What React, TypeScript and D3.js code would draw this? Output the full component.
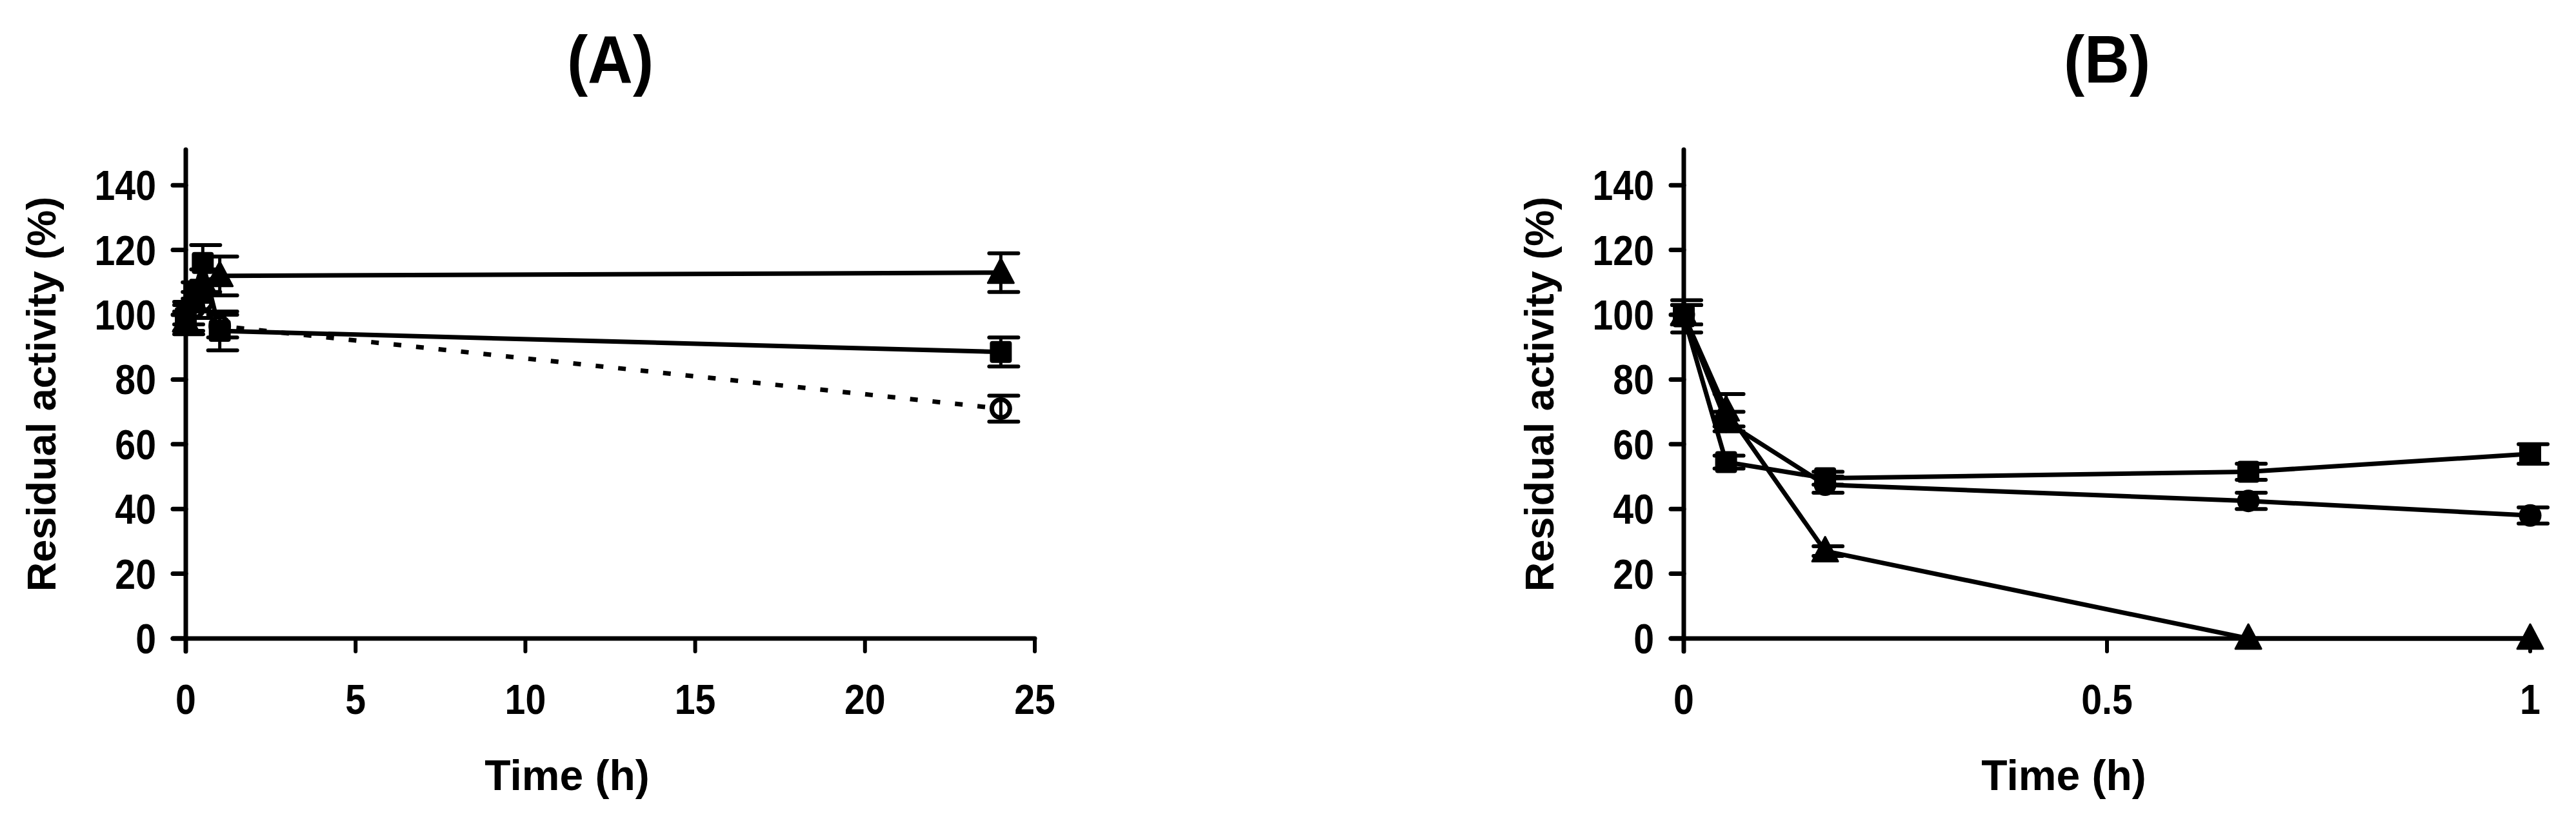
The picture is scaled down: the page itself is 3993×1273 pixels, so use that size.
import React from "react";
import * as d3 from "d3";

// ---------- data ----------
const Y_TICKS = [0, 20, 40, 60, 80, 100, 120, 140];
const A_X_TICKS = [0, 5, 10, 15, 20, 25];
const B_X_TICKS = [0, 0.5, 1];
const B_X_TICK_LABELS = ["0", "0.5", "1"];

const A_TIME = [0, 0.25, 0.5, 1, 24];
const A_TRI = [98, 104, 110, 112, 113];
const A_TRI_ERR = [3, 3, 4, 6, 6];
const A_SQ = [99, 107, 116, 95, 88.5];
const A_SQ_ERR = [5, 3, 5.5, 6, 4.5];
const A_CIR = [100, 102, 104, 96.5, 71];
const A_CIR_ERR = [3, 3, 3, 3.5, 4];

const B_TIME = [0, 0.05, 0.167, 0.667, 1];
const B_SQ = [99.5, 54.5, 49.5, 51.5, 57];
const B_SQ_ERR = [5, 2, 2, 2.5, 3];
const B_CIR = [100, 67, 47.5, 42.5, 38];
const B_CIR_ERR = [3, 3, 2.5, 2.5, 2.5];
const B_TRI = [100, 70.5, 27, 0, 0];
const B_TRI_ERR = [3, 5, 1.5, 0, 0];

const FONT = "'Liberation Sans', Arial, Helvetica, sans-serif";

type Series = {
  t: number[];
  v: number[];
  e: number[];
  shape: "square" | "circle" | "triangle";
  open?: boolean;
  dashed?: boolean;
};

function Marker({ shape, x, y, open }: { shape: string; x: number; y: number; open?: boolean }) {
  if (shape === "square") {
    return <rect x={x - 17} y={y - 17} width={34} height={34} rx={4} fill="#000" />;
  }
  if (shape === "circle") {
    return open ? (
      <circle cx={x} cy={y} r={14} fill="#fff" stroke="#000" strokeWidth={7} />
    ) : (
      <circle cx={x} cy={y} r={17.5} fill="#000" />
    );
  }
  const p = d3.path();
  p.moveTo(x, y - 22);
  p.lineTo(x + 20, y + 16);
  p.lineTo(x - 20, y + 16);
  p.closePath();
  return <path d={p.toString()} fill="#000" stroke="#000" strokeWidth={3} strokeLinejoin="round" />;
}

function Panel({
  title,
  xDomain,
  xRange,
  xTicks,
  xTickLabels,
  series,
}: {
  title: string;
  xDomain: [number, number];
  xRange: [number, number];
  xTicks: number[];
  xTickLabels: string[];
  series: Series[];
}) {
  const x = d3.scaleLinear().domain(xDomain).range(xRange);
  const y = d3.scaleLinear().domain([0, 151]).range([990, 232]);
  const x0 = x(xDomain[0]);
  const x1 = x(xDomain[1]);
  const y0 = y(0);
  const yTop = y(151);
  const mid = (x0 + x1) / 2;
  const line = d3
    .line<number>()
    .x((_, i) => 0)
    .y(() => 0);

  return (
    <g>
      {/* title */}
      <g transform={`translate(${mid},128) scale(0.93,1)`}>
        <text textAnchor="middle" fontSize={104} fontWeight="bold" fontFamily={FONT}>
          {title}
        </text>
      </g>

      {/* y axis */}
      <line x1={x0} x2={x0} y1={y0 + 20} y2={yTop} stroke="#000" strokeWidth={7} strokeLinecap="round" />
      {Y_TICKS.map((t) => (
        <g key={"yt" + t}>
          <line x1={x0 - 20} x2={x0} y1={y(t)} y2={y(t)} stroke="#000" strokeWidth={7} strokeLinecap="round" />
          <g transform={`translate(${x0 - 46},${y(t) + 23}) scale(0.88,1)`}>
            <text textAnchor="end" fontSize={65} fontWeight="bold" fontFamily={FONT}>
              {t}
            </text>
          </g>
        </g>
      ))}

      {/* x axis */}
      <line x1={x0 - 20} x2={x1} y1={y0} y2={y0} stroke="#000" strokeWidth={7} strokeLinecap="round" />
      {xTicks.map((t, i) => (
        <g key={"xt" + t}>
          <line x1={x(t)} x2={x(t)} y1={y0} y2={y0 + 20} stroke="#000" strokeWidth={6} strokeLinecap="round" />
          <g transform={`translate(${x(t)},1107) scale(0.88,1)`}>
            <text textAnchor="middle" fontSize={65} fontWeight="bold" fontFamily={FONT}>
              {xTickLabels[i]}
            </text>
          </g>
        </g>
      ))}

      {/* axis titles */}
      <text x={mid - 67} y={1225} textAnchor="middle" fontSize={66} fontWeight="bold" fontFamily={FONT}>
        Time (h)
      </text>
      <text
        transform={`translate(${x0 - 202},${(y0 + yTop) / 2}) rotate(-90)`}
        textAnchor="middle"
        fontSize={63}
        fontWeight="bold"
        fontFamily={FONT}
      >
        Residual activity (%)
      </text>

      {/* lines */}
      {series.map((s, si) => {
        const gen = d3
          .line<number>()
          .x((_, i) => x(s.t[i]))
          .y((d) => y(d));
        return (
          <path
            key={"l" + si}
            d={gen(s.v) || ""}
            fill="none"
            stroke="#000"
            strokeWidth={7}
            strokeDasharray={s.dashed ? "12 23" : undefined}
          />
        );
      })}

      {/* markers */}
      {series.map((s, si) =>
        s.v.map((v, i) => (
          <Marker key={"m" + si + "-" + i} shape={s.shape} x={x(s.t[i])} y={y(v)} open={s.open} />
        ))
      )}

      {/* error bars */}
      {series.map((s, si) =>
        s.v.map((v, i) => {
          const e = s.e[i];
          if (!e) return null;
          const cx = x(s.t[i]);
          return (
            <g key={"e" + si + "-" + i} stroke="#000" strokeLinecap="round">
              <line x1={cx} x2={cx} y1={y(v - e)} y2={y(v + e)} strokeWidth={5} />
              <line x1={cx - 18} x2={cx + 27} y1={y(v + e)} y2={y(v + e)} strokeWidth={6} />
              <line x1={cx - 18} x2={cx + 27} y1={y(v - e)} y2={y(v - e)} strokeWidth={6} />
            </g>
          );
        })
      )}
    </g>
  );
}

export default function App() {
  const seriesA: Series[] = [
    { t: A_TIME, v: A_CIR, e: A_CIR_ERR, shape: "circle", open: true, dashed: true },
    { t: A_TIME, v: A_SQ, e: A_SQ_ERR, shape: "square" },
    { t: A_TIME, v: A_TRI, e: A_TRI_ERR, shape: "triangle" },
  ];
  const seriesB: Series[] = [
    { t: B_TIME, v: B_TRI, e: B_TRI_ERR, shape: "triangle" },
    { t: B_TIME, v: B_CIR, e: B_CIR_ERR, shape: "circle" },
    { t: B_TIME, v: B_SQ, e: B_SQ_ERR, shape: "square" },
  ];
  return (
    <div style={{ position: "fixed", left: 0, top: 0 }}>
      <svg width={3993} height={1273} viewBox="0 0 3993 1273" style={{ display: "block", background: "#fff" }}>
        <rect x={0} y={0} width={3993} height={1273} fill="#fff" />
        <Panel
          title="(A)"
          xDomain={[0, 25]}
          xRange={[288, 1604]}
          xTicks={A_X_TICKS}
          xTickLabels={A_X_TICKS.map(String)}
          series={seriesA}
        />
        <Panel
          title="(B)"
          xDomain={[0, 1]}
          xRange={[2610, 3922]}
          xTicks={B_X_TICKS}
          xTickLabels={B_X_TICK_LABELS}
          series={seriesB}
        />
      </svg>
    </div>
  );
}
